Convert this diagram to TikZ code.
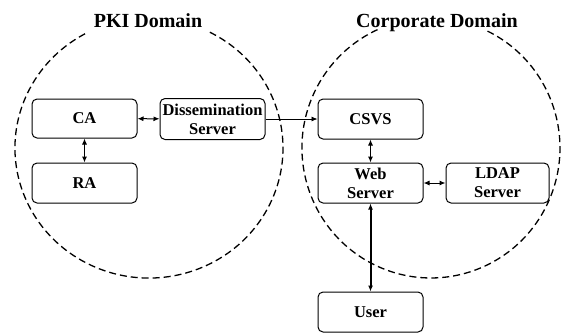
\documentclass[tikz,border=0pt]{standalone}
\usepackage{fontspec}
\setmainfont{Liberation Serif}
\usetikzlibrary{arrows.meta}
\begin{document}
\begin{tikzpicture}[x=1pt,y=-1pt,
  box/.style={draw, rounded corners=5pt, line width=1pt, minimum width=105pt,
    minimum height=40pt, inner sep=0pt, align=center,
    font=\fontsize{16.5}{19}\selectfont\bfseries},
  domainline/.style={dash pattern=on 7pt off 4pt, line width=1.3pt},
  domaintitle/.style={anchor=base, inner sep=0pt,
    font=\fontsize{20}{24}\selectfont\bfseries},
  tip/.tip={Latex[length=6pt,width=5pt]},
  link/.style={line width=1pt, tip-tip},
  feed/.style={line width=0.8pt, -tip}]
\useasboundingbox (0,0) rectangle (561,333);

% domain boundaries, open at the top for the titles
\draw[domainline] (209.8,32.2) arc[start angle=-63, end angle=243,
  x radius=134, y radius=130];
\draw[domainline] (487.5,31.1) arc[start angle=-64, end angle=247,
  x radius=129, y radius=130];

\node[domaintitle] (pkititle) at (148,27) {PKI Domain};
\node[domaintitle] (corptitle) at (437,27) {Corporate Domain};

% components
\node[box, minimum height=39pt] (ca) at (84.5,118.5) {CA};
\node[box] (ra) at (84.5,183) {RA};
\node[box, minimum height=41pt] (diss) at (212.5,119) {Dissemination\\Server};
\node[box] (csvs) at (370.5,119) {CSVS};
\node[box] (web) at (370.5,183) {Web\\Server};
\node[box, minimum width=103pt] (ldap) at (497.5,183) {LDAP\\Server};
\node[box] (user) at (370.5,312) {User};

% connections
\draw[link] (ca) -- (diss);
\draw[link] (ca) -- (ra);
\draw[feed] (diss) -- (csvs);
\draw[link] (csvs) -- (web);
\draw[link] (web) -- (ldap);
\draw[link, line width=2pt] (web) -- (user);
\end{tikzpicture}
\end{document}
